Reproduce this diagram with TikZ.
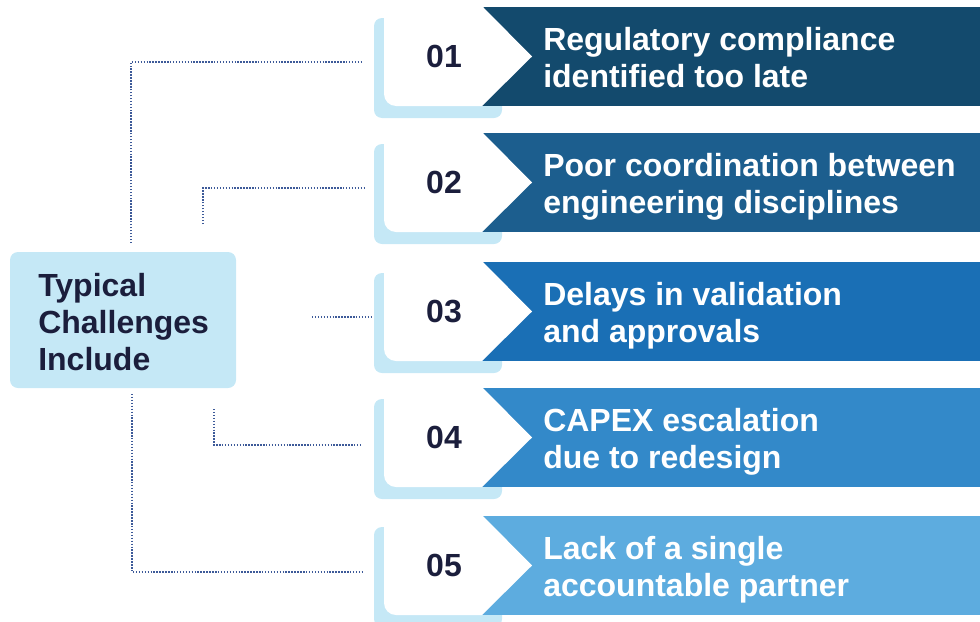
\documentclass[tikz,border=0pt]{standalone}
\usepackage{fontspec}
\setmainfont{Liberation Sans}
\definecolor{rowa}{HTML}{134A6D}
\definecolor{rowb}{HTML}{1C5E8E}
\definecolor{rowc}{HTML}{1A6FB5}
\definecolor{rowd}{HTML}{3389C9}
\definecolor{rowe}{HTML}{5DACDF}
\definecolor{paleblue}{HTML}{C5E8F6}
\definecolor{ink}{HTML}{1B1E3C}
\definecolor{connc}{HTML}{3D5A99}
\begin{document}
\begin{tikzpicture}[x=0.75pt,y=-0.75pt,
  bigtext/.style={font=\fontsize{24}{27.75}\selectfont\bfseries, inner sep=0pt, align=left, anchor=west},
  numtext/.style={font=\fontsize{24}{27.75}\selectfont\bfseries, text=ink, inner sep=0pt, anchor=center},
  sidebox/.style={fill=paleblue, rounded corners=6pt, inner sep=0pt, minimum width=226*0.75pt, minimum height=136*0.75pt},
  conn/.style={draw=connc, line width=1.1pt, dash pattern=on 1.1pt off 1.1pt}]
\useasboundingbox (0,0) rectangle (980,621);

% rows
\foreach \i/\t/\col/\la/\lb in {
  1/7/rowa/{Regulatory compliance}/{identified too late},
  2/133/rowb/{Poor coordination between}/{engineering disciplines},
  3/262/rowc/{Delays in validation}/{and approvals},
  4/388/rowd/{CAPEX escalation}/{due to redesign},
  5/516/rowe/{Lack of a single}/{accountable partner}}{
  \fill[paleblue, rounded corners=6pt] (374,\t+11) rectangle (502,\t+111);
  \fill[\col] (470,\t) rectangle (980,\t+99);
  \fill[white] (483,\t) -- (396,\t) arc[start angle=270, end angle=180, radius=12]
     -- (384,\t+87) arc[start angle=180, end angle=90, radius=12]
     -- (482,\t+99) -- (532,\t+49.5) -- cycle;
  \node[numtext] (num\i) at (444,\t+49.5) {0\i};
  \node[bigtext, text=white] (txt\i) at (543,\t+54.1) {\strut\la\\\strut\lb};
}

% left box
\node[sidebox] (tc) at (123,320) {};
\node[bigtext, text=ink, font=\fontsize{24}{27.4}\selectfont\bfseries] (tctxt) at (38,326.2) {\strut Typical\\\strut Challenges\\\strut Include};

% connector coordinates
\coordinate (s1) at (131,243); \coordinate (e1) at (363,62);
\coordinate (s2) at (203,224); \coordinate (e2) at (364,188);
\coordinate (s3) at (312,317); \coordinate (e3) at (371,317);
\coordinate (s4) at (214,409); \coordinate (e4) at (362,445);
\coordinate (s5) at (132,394); \coordinate (e5) at (363,572);

\draw[conn] (s1) |- (e1);
\draw[conn] (s2) |- (e2);
\draw[conn] (s3) -- (e3);
\draw[conn] (s4) |- (e4);
\draw[conn] (s5) |- (e5);
\end{tikzpicture}
\end{document}
